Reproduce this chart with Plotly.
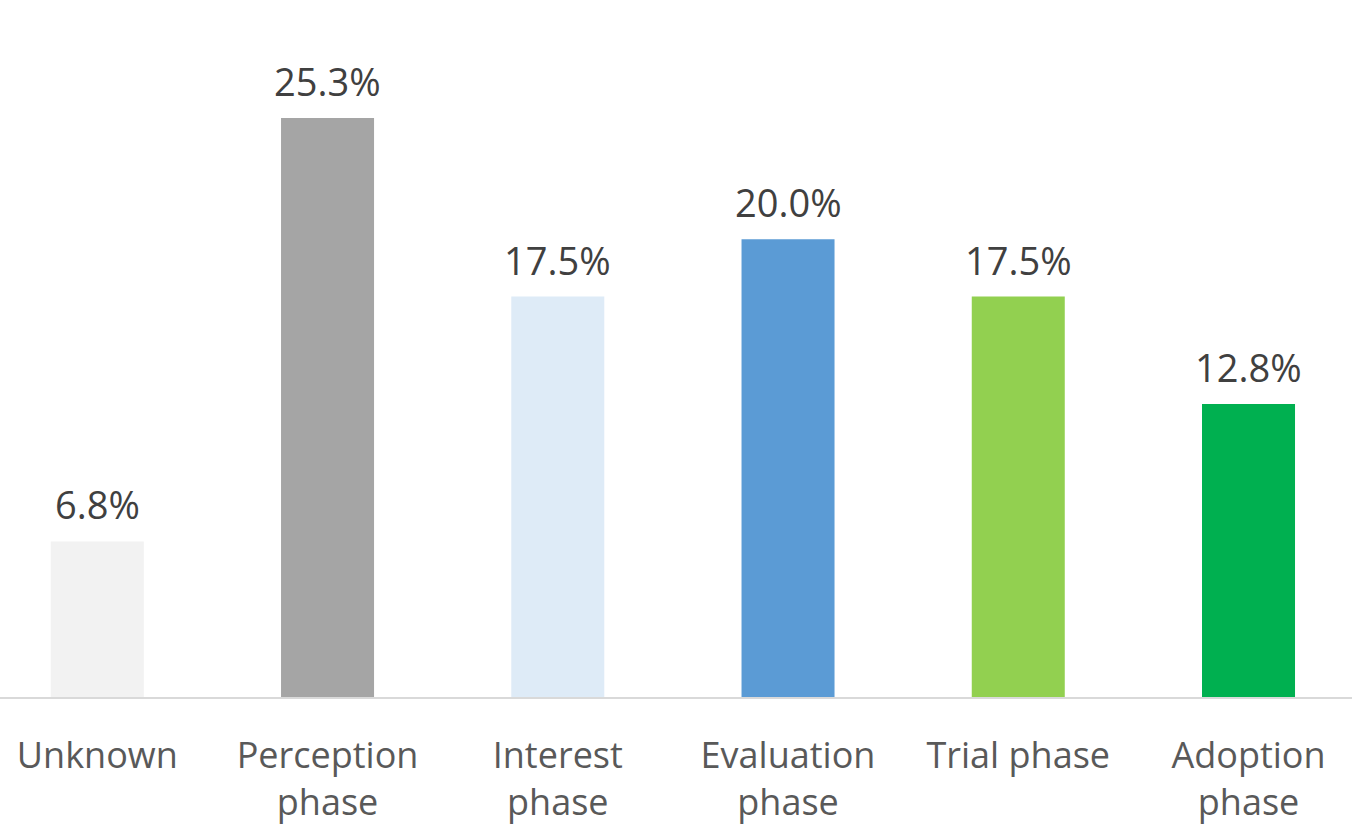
import plotly.graph_objects as go

categories = ["Unknown", "Perception<br>phase", "Interest<br>phase", "Evaluation<br>phase", "Trial phase", "Adoption<br>phase"]
values = [6.8, 25.3, 17.5, 20.0, 17.5, 12.8]
labels = ["6.8%", "25.3%", "17.5%", "20.0%", "17.5%", "12.8%"]
colors = ["#F2F2F2", "#A5A5A5", "#DEEBF7", "#5B9BD5", "#92D050", "#00B050"]

x = list(range(len(categories)))

fig = go.Figure(go.Bar(
    x=x, y=values, width=0.404,
    marker=dict(color=colors, line=dict(width=0)),
    hoverinfo="skip",
))

for xi, v, lab in zip(x, values, labels):
    fig.add_annotation(
        x=xi, y=v, xref="x", yref="y", text=lab, showarrow=False,
        yanchor="middle", yshift=37,
        font=dict(family="Open Sans", size=38, color="#404040"),
    )

fig.update_layout(
    width=1352, height=826,
    margin=dict(l=0, r=0, t=0, b=129),
    paper_bgcolor="white", plot_bgcolor="white",
    showlegend=False,
    font=dict(family="Open Sans"),
)
fig.update_xaxes(
    range=[-0.4226, 5.4495], tickmode="array", tickvals=x, ticktext=categories,
    showline=True, linecolor="#D9D9D9", linewidth=2, showgrid=False, zeroline=False,
    ticks="", tickfont=dict(family="Open Sans", size=36, color="#595959"),
    ticklabelstandoff=26, automargin=False,
)
fig.update_yaxes(range=[0, 30.46], visible=False, showgrid=False, automargin=False)

fig.write_html("out.html")
